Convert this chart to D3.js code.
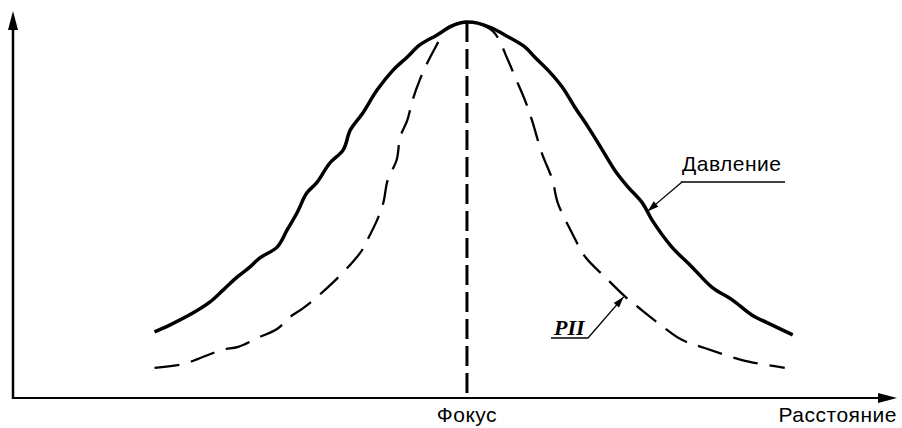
<!DOCTYPE html>
<html><head><meta charset="utf-8">
<script src="https://cdn.jsdelivr.net/npm/d3@7"></script>
<style>html,body{margin:0;padding:0;background:#fff}svg{display:block}</style>
</head><body>
<svg id="c" width="902" height="428"></svg>
<script>
// Distance (relative units, focus = 0) and normalised pressure (%)
const pressureX = [-35.1,-33.4,-30.8,-28.9,-27.4,-25.8,-24.4,-23.3,-21.3,-20.2,-19.1,-18.0,-16.9,-15.4,-13.9,-13.1,-11.7,-10.1,-8.3,-6.7,-5.3,-3.4,-1.9,-0.8,0,1.2,2.8,4.3,6.5,7.6,9.1,10.7,12.1,13.6,15.2,16.6,18.1,19.7,20.8,23.0,25.3,27.5,29.8,32.0,34.3,36.6];
const pressureY = [17.6,19.4,22.6,25.5,28.7,32.2,34.8,37.2,40.2,44.7,49.2,54.5,57.2,62.5,66.0,71.3,75.8,81.9,87.2,90.7,93.9,96.5,98.7,99.7,100,99.7,98.4,96.5,93.4,90.7,87.2,82.7,77.4,72.1,66.0,60.6,56.1,51.9,47.3,40.2,34.8,29.5,26.1,22.1,19.4,16.8];
const piiX = [-35.1,-31.9,-30.2,-27.5,-25.7,-23.3,-21.3,-19.9,-18.4,-15.1,-12.0,-11.2,-10.1,-9.4,-8.9,-7.9,-7.5,-6.7,-6.1,-5.3,-4.4,-3.4,-2.5,-1.3,0,1.7,3.1,4.6,5.4,6.5,7.3,8.4,9.6,10.2,11.8,13.3,15.5,17.8,19.2,21.5,24.2,26.7,30.9,35.7];
const piiY = [8.0,9.0,10.4,12.8,13.6,16.2,18.4,21.5,23.9,30.6,38.6,42.0,47.3,51.9,58.0,63.3,69.4,73.9,79.3,84.6,89.4,93.9,97.9,99.5,100,99.2,97.1,89.9,85.4,79.3,73.9,65.2,58.0,51.9,43.9,37.5,32.2,26.9,24.2,19.9,15.4,13.3,10.1,8.0];
const focusX = 0;
const axisLabels = {x: "Расстояние", focus: "Фокус"};
const seriesNames = ["Давление", "PII"];
// annotation anchors (data coords of arrow tips)
const annotTip = [[20.3, 49.7], [17.6, 26.9]];

const svg = d3.select("#c");
const x = d3.scaleLinear().domain([-51, 48.2]).range([13, 896]);
const y = d3.scaleLinear().domain([0, 100]).range([398, 22]);

const line = d3.line().x(d => x(d[0])).y(d => y(d[1])).curve(d3.curveCatmullRom.alpha(0.5));
const pData = pressureX.map((v,i)=>[v, pressureY[i]]);
const iData = piiX.map((v,i)=>[v, piiY[i]]);
const SANS = "Liberation Sans, Arial, sans-serif";

// axes
const x0 = x.range()[0], yb = y(0);
svg.append("line").attr("x1", x0).attr("y1", yb).attr("x2", 882).attr("y2", yb).attr("stroke","#000").attr("stroke-width",2);
svg.append("line").attr("x1", x0).attr("y1", yb+1).attr("x2", x0).attr("y2", 26).attr("stroke","#000").attr("stroke-width",2.5);
svg.append("path").attr("d", `M${x0},11 L${x0-5},30 L${x0+5},30 Z`).attr("fill","#000");
svg.append("path").attr("d", `M897,${yb} L878,${yb-5} L878,${yb+5} Z`).attr("fill","#000");

// focus line
svg.append("line").attr("x1", x(focusX)).attr("x2", x(focusX)).attr("y1", y(100)).attr("y2", yb)
  .attr("stroke","#000").attr("stroke-width",3).attr("stroke-dasharray","20,7");

// PII dashed
svg.append("path").datum(iData).attr("d", line).attr("fill","none").attr("stroke","#000")
  .attr("stroke-width",2.3).attr("stroke-dasharray","25,12");
// Pressure solid
svg.append("path").datum(pData).attr("d", line).attr("fill","none").attr("stroke","#000")
  .attr("stroke-width",3.5).attr("stroke-linejoin","round");

// labels
svg.append("text").attr("x", x(focusX)).attr("y", 422).attr("text-anchor","middle")
  .attr("font-family",SANS).attr("font-size",21).attr("letter-spacing",0.5).text(axisLabels.focus);
svg.append("text").attr("x", 897).attr("y", 422).attr("text-anchor","end")
  .attr("font-family",SANS).attr("font-size",21).attr("letter-spacing",0.5).text(axisLabels.x);

function arrow(x1,y1,x2,y2){
  svg.append("line").attr("x1",x1).attr("y1",y1).attr("x2",x2).attr("y2",y2).attr("stroke","#000").attr("stroke-width",1.3);
  const a = Math.atan2(y2-y1, x2-x1), L=11, W=3.5;
  const bx = x2 - L*Math.cos(a), by = y2 - L*Math.sin(a);
  const px = -Math.sin(a)*W, py = Math.cos(a)*W;
  svg.append("path").attr("d",`M${x2},${y2} L${bx+px},${by+py} L${bx-px},${by-py} Z`).attr("fill","#000");
}
// Давление annotation
const t1 = [x(annotTip[0][0]), y(annotTip[0][1])];
svg.append("text").attr("x", 682).attr("y", 171).attr("font-family",SANS)
  .attr("font-size",21).attr("letter-spacing",0.5).text(seriesNames[0]);
svg.append("line").attr("x1",681).attr("x2",785).attr("y1",182).attr("y2",182).attr("stroke","#000").attr("stroke-width",1.5);
arrow(682,182,t1[0],t1[1]);
// PII annotation
const t2 = [x(annotTip[1][0]), y(annotTip[1][1])];
svg.append("text").attr("x", 554).attr("y", 335).attr("font-family","Liberation Serif, Times New Roman, serif")
  .attr("font-style","italic").attr("font-weight","bold").attr("font-size",22).text(seriesNames[1]);
svg.append("line").attr("x1",551).attr("x2",588).attr("y1",338).attr("y2",338).attr("stroke","#000").attr("stroke-width",1.5);
arrow(588,338,t2[0],t2[1]);
</script>
</body></html>
